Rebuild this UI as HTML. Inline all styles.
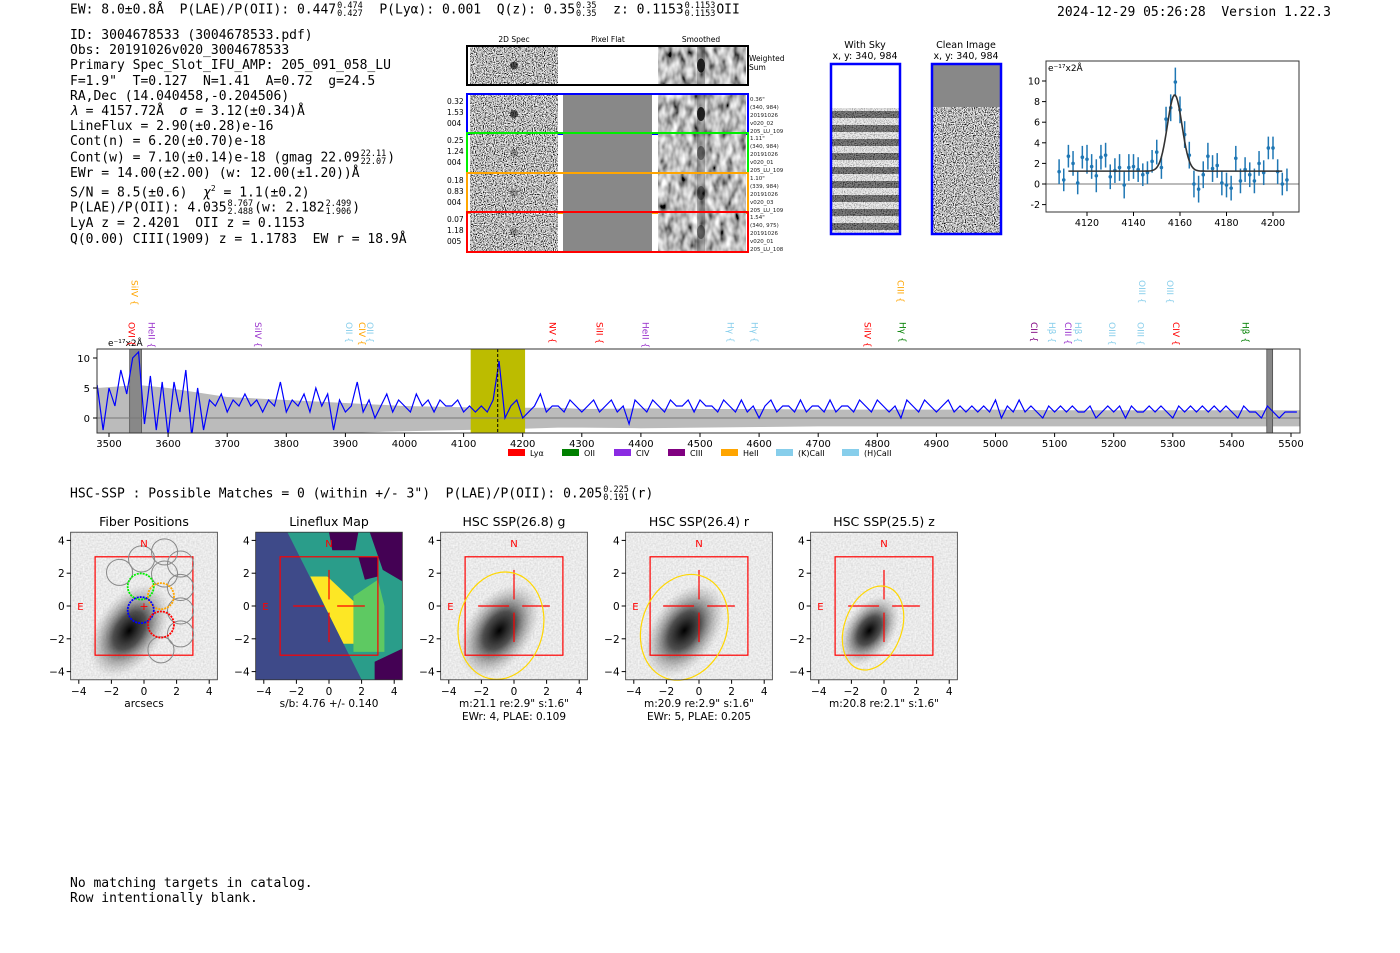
<!DOCTYPE html>
<html><head><meta charset="utf-8">
<style>
body{margin:0;background:#fff;width:1400px;height:953px;overflow:hidden;position:relative;font-family:"DejaVu Sans","Liberation Sans",sans-serif}
.mono{font-family:"DejaVu Sans Mono","Liberation Mono",monospace;font-size:13px;position:absolute;white-space:pre;color:#000;line-height:15px}
.fr{display:inline-block;vertical-align:middle;font-size:8.5px;line-height:8px;text-align:left;margin:0 1px}
.fr span{display:block}
svg{position:absolute;left:0;top:0}
</style></head><body>
<div class="mono" style="left:70px;top:2px">EW: 8.0±0.8Å  P(LAE)/P(OII): 0.447<span class="fr"><span>0.474</span><span>0.427</span></span>  P(Lyα): 0.001  Q(z): 0.35<span class="fr"><span>0.35</span><span>0.35</span></span>  z: 0.1153<span class="fr"><span>0.1153</span><span>0.1153</span></span>OII</div>
<div class="mono" style="left:1057px;top:5px">2024-12-29 05:26:28  Version 1.22.3</div>
<div class="mono" style="left:70px;top:28px;line-height:15.2px">ID: 3004678533 (3004678533.pdf)
Obs: 20191026v020_3004678533
Primary Spec_Slot_IFU_AMP: 205_091_058_LU
F=1.9"  T=0.127  N=1.41  A=0.72  g=24.5
RA,Dec (14.040458,-0.204506)
<i>λ</i> = 4157.72Å  <i>σ</i> = 3.12(±0.34)Å
LineFlux = 2.90(±0.28)e-16
Cont(n) = 6.20(±0.70)e-18
Cont(w) = 7.10(±0.14)e-18 (gmag 22.09<span class="fr"><span>22.11</span><span>22.07</span></span>)
EWr = 14.00(±2.00) (w: 12.00(±1.20))Å
S/N = 8.5(±0.6)  <i>χ</i><sup style="font-size:8px">2</sup> = 1.1(±0.2)
P(LAE)/P(OII): 4.035<span class="fr"><span>8.767</span><span>2.488</span></span>(w: 2.182<span class="fr"><span>2.499</span><span>1.906</span></span>)
LyA z = 2.4201  OII z = 0.1153
Q(0.00) CIII(1909) z = 1.1783  EW r = 18.9Å</div>
<div class="mono" style="left:70px;top:486px">HSC-SSP : Possible Matches = 0 (within +/- 3")  P(LAE)/P(OII): 0.205<span class="fr"><span>0.225</span><span>0.191</span></span>(r)</div>
<div class="mono" style="left:70px;top:876px">No matching targets in catalog.
Row intentionally blank.</div>

<svg id="chart" width="1400" height="953" xmlns="http://www.w3.org/2000/svg">
<defs>
<filter id="noise" x="0" y="0" width="1" height="1"><feTurbulence type="fractalNoise" baseFrequency="0.9" numOctaves="1" seed="4"/><feColorMatrix type="matrix" values="3 0 0 0 -1 3 0 0 0 -1 3 0 0 0 -1 0 0 0 0 1"/></filter>
<filter id="smooth" x="0" y="0" width="1" height="1"><feTurbulence type="fractalNoise" baseFrequency="0.15 0.08" numOctaves="2" seed="7"/><feColorMatrix type="matrix" values="1.6 0 0 0 -0.3 1.6 0 0 0 -0.3 1.6 0 0 0 -0.3 0 0 0 0 1"/></filter>
<filter id="light" x="0" y="0" width="1" height="1"><feTurbulence type="fractalNoise" baseFrequency="0.6" numOctaves="1" seed="9"/><feColorMatrix type="matrix" values="0.4 0 0 0 0.62 0.4 0 0 0 0.62 0.4 0 0 0 0.62 0 0 0 0 1"/></filter>
<pattern id="stripes" x="0" y="108" width="67" height="14" patternUnits="userSpaceOnUse"><rect width="67" height="14" fill="#eee"/><rect y="3" width="67" height="7" fill="#444"/></pattern>
<radialGradient id="gal"><stop offset="0" stop-color="#000"/><stop offset="0.4" stop-color="#333" stop-opacity="0.85"/><stop offset="1" stop-color="#999" stop-opacity="0"/></radialGradient>
<clipPath id="specClip"><rect x="97" y="349" width="1203" height="84"/></clipPath>
<clipPath id="zoomClip"><rect x="1046" y="61" width="253" height="151"/></clipPath>
</defs>
</svg>
<script>
// ---- data ----
const specStart = 3480, specStep = 10;
const specFlux = [
5.5,-2,5,2,8,4,10,11,-1,7,
-2,6,-3,6,1,8,-3,5,-2,3,
2,4,1,3,2,4,2,3,1,3,
2,6,1,3,2,4,1,5,2,4,
-2,3,1,2,6,1,3,0,2,4,
1,3,2,1,4,2,3,1,3,2,
2,3,1,2,1,2,1,3,9.5,0,
2,3,0,1,2,4,1,2,2,1,
3,2,1,2,3,1,2,3,1,2,
-1,3,2,1,3,2,1,3,2,2,
3,1,3,2,2,1,3,2,1,3,
1,2,0,2,3,1,2,2,1,3,
1,2,2,1,3,1,2,2,1,3,
2,1,3,2,1,2,0,3,2,1,
3,2,1,2,3,1,2,1,2,1,
2,1,3,0,2,1,3,1,2,1,
0,2,1,2,1,2,1,1,2,0,
1,2,1,2,0,2,1,1,2,1,
2,1,0,2,1,2,1,2,1,2,
1,2,1,0,2,1,1,0,2,1,
0,1,1,1];
const errWave = [3480,3550,3600,3700,3800,3900,4000,4100,4200,4260,4300,4400,4500,4600,4700,4800,4900,5000,5100,5200,5300,5400,5515];
const errUp   = [5,5.5,5,3.5,3,2.5,2,1.8,1.7,1.7,1.5,1.6,1.5,1.5,1.4,1.4,1.4,1.4,1.3,1.3,1.3,1.3,1.3];
const errLo   = [-3,-3,-3,-3,-2.5,-2.5,-2.2,-2,-1.8,-1.6,-1.6,-1.7,-1.6,-1.5,-1.4,-1.4,-1.4,-1.4,-1.4,-1.4,-1.4,-1.4,-1.4];
const specXTicks = [3500,3600,3700,3800,3900,4000,4100,4200,4300,4400,4500,4600,4700,4800,4900,5000,5100,5200,5300,5400,5500];
const specYTicks = [0,5,10];
const lineNames = ["SiIV","OVI","HeII","SiIV","OII","CIV","OII","NV","SiII","HeII","Hγ","Hγ","SiIV","Hγ","CIII","CII","Hβ","CIII","Hβ","OIII","OIII","OIII","OIII","CIV","Hβ"];
const lineWaves = [3543,3538,3572,3752,3906,3928,3942,4250,4330,4408,4552,4592,4783,4843,4839,5065,5096,5123,5140,5197,5245,5248,5295,5305,5423];
const lineRows  = [1,0,0,0,0,0,0,0,0,0,0,0,0,0,1,0,0,0,0,0,0,1,1,0,0];
const lineColors = ["#ffa500","#ff0000","#9932cc","#9932cc","#87ceeb","#ffa500","#87ceeb","#ff0000","#ff0000","#9932cc","#87ceeb","#87ceeb","#ff0000","#008000","#ffa500","#800080","#87ceeb","#9932cc","#87ceeb","#87ceeb","#87ceeb","#87ceeb","#87ceeb","#ff0000","#008000"];
const legendNames = ["Lyα","OII","CIV","CIII","HeII","(K)CaII","(H)CaII"];
const legendColors = ["#ff0000","#008000","#8a2be2","#800080","#ffa500","#87ceeb","#87ceeb"];
const zoomWave = [4108,4110,4112,4114,4116,4118,4120,4122,4124,4126,4128,4130,4132,4134,4136,4138,4140,4142,4144,4146,4148,4150,4152,4154,4156,4158,4160,4162,4164,4166,4168,4170,4172,4174,4176,4178,4180,4182,4184,4186,4188,4190,4192,4194,4196,4198,4200,4202,4204,4206];
const zoomFlux = [1.2,0.4,2.7,2.0,0.1,2.6,2.4,1.7,0.8,2.6,2.8,0.7,1.3,1.6,-0.1,1.6,1.7,1.4,0.9,1.1,2.2,3.1,1.6,6.3,7.4,9.9,7.2,4.8,2.8,0.0,-0.5,0.9,2.7,1.5,1.8,0.1,-0.1,-0.4,2.5,0.3,1.4,0.9,0.3,2.0,1.1,3.5,3.5,1.2,0.0,0.4];
const zoomErr = [1.2,1.1,1.1,1.2,1.1,1.1,1.4,1.2,1.6,1.2,1.2,1.2,1.2,1.3,1.3,1.3,1.2,1.2,1.1,1.1,1.1,1.2,1.1,1.2,1.3,1.4,1.3,1.3,1.3,1.3,1.3,1.3,1.3,1.3,1.2,1.2,1.2,1.2,1.2,1.2,1.2,1.2,1.2,1.2,1.2,1.1,1.1,1.2,1.1,1.1];
const zoomXTicks = [4120,4140,4160,4180,4200];
const zoomYTicks = [-2,0,2,4,6,8,10];
const fitCenter = 4157.72, fitSigma = 3.12, fitAmp = 7.4, fitCont = 1.25;
const cutTitles = ["Fiber Positions","Lineflux Map","HSC SSP(26.8) g","HSC SSP(26.4) r","HSC SSP(25.5) z"];
const cutCaptions = [["arcsecs"],["s/b: 4.76 +/- 0.140"],['m:21.1  re:2.9"  s:1.6"',"EWr: 4, PLAE: 0.109"],['m:20.9  re:2.9"  s:1.6"',"EWr: 5, PLAE: 0.205"],['m:20.8  re:2.1"  s:1.6"']];
const cutTicks = [-4,-2,0,2,4];
const fiberX = [-1.5,-0.15,1.26,2.24,1.26,2.24,2.24,2.24,1.04,-0.2,1.04,-0.2,1.04];
const fiberY = [2.05,2.87,3.3,2.56,1.95,1.13,-0.3,-1.7,-2.67,1.19,0.6,-0.25,-1.13];
const fiberColors = ["#888","#888","#888","#888","#888","#888","#888","#888","#888","#00ee00","#ffa500","#0000ff","#ff0000"];
const ellCx = [-0.8,-0.9,-0.67], ellCy=[-1.2,-1.3,-1.34], ellRx=[2.6,2.6,1.75], ellRy=[3.3,3.3,2.65], ellRot=[12,20,20];

const NS="http://www.w3.org/2000/svg";
const svg=document.getElementById('chart');
function mk(tag,attrs,parent){const e=document.createElementNS(NS,tag);for(const k in attrs)e.setAttribute(k,attrs[k]);(parent||svg).appendChild(e);return e;}
function txt(s,x,y,size,anchor,fill,parent){const e=mk('text',{x:x,y:y,'font-size':size,'text-anchor':anchor||'start',fill:fill||'#000'},parent);e.textContent=s;return e;}

const sx=w=>109+(w-3500)*0.591;
const sy=v=>418-v*6;
let el;
let bp='M'+errWave.map((w,i)=>sx(w)+','+sy(errUp[i])).join('L');
for(let i=errWave.length-1;i>=0;i--)bp+='L'+sx(errWave[i])+','+sy(errLo[i]);
el=mk('path',{d:bp+'Z',fill:'#bbb','clip-path':'url(#specClip)'});


el=mk('rect',{x:sx(4112),y:349,width:sx(4204)-sx(4112),height:84,fill:'#bcbc00'});


el=mk('rect',{x:sx(3535),y:349,width:sx(3555)-sx(3535),height:84,fill:'#888',stroke:'#444','stroke-width':0.7});


el=mk('rect',{x:sx(5459),y:349,width:sx(5469)-sx(5459),height:84,fill:'#888',stroke:'#444','stroke-width':0.7});


el=mk('line',{x1:97,x2:1300,y1:sy(0),y2:sy(0),stroke:'#777','stroke-width':1});


const sp=specFlux.map((v,i)=>sx(specStart+i*specStep)+','+sy(v)).join(' ');
el=mk('polyline',{points:sp,fill:'none',stroke:'#0000ff','stroke-width':1.2,'clip-path':'url(#specClip)'});


el=mk('line',{x1:sx(fitCenter),x2:sx(fitCenter),y1:349,y2:433,stroke:'#000','stroke-width':1,'stroke-dasharray':'3,2'});


el=mk('rect',{x:97,y:349,width:1203,height:84,fill:'none',stroke:'#333','stroke-width':1});


specXTicks.forEach(t=>{
  el=mk('line',{x1:sx(t),x2:sx(t),y1:433,y2:437,stroke:'#000'});
  
  
  el=txt(t,sx(t),447,10,'middle');
  
  
});
specYTicks.forEach(t=>{
  el=mk('line',{x1:93,x2:97,y1:sy(t),y2:sy(t),stroke:'#000'});
  
  
  el=txt(t,90,sy(t)+4,10,'end');
  
  
});
el=txt('e⁻¹⁷x2Å',108,346,9,'start');


lineNames.forEach((n,i)=>{
  const x=sx(lineWaves[i]);const y=lineRows[i]?280:322;
  el=txt(n+' {',0,0,9,'start',lineColors[i]);
  el.setAttribute('transform','translate('+(x-3)+','+y+') rotate(90)');
  
  
});
legendNames.forEach((n,i)=>{
  const lx=[508,562,614,668,721,776,842][i];
  el=mk('rect',{x:lx,y:449,width:17,height:7,fill:legendColors[i]});
  
  
  el=txt(n,lx+22,456,8,'start');
  
  
});

const zx=w=>1087+(w-4120)*2.325;
const zy=v=>184-v*10.3;
el=mk('line',{x1:1046,x2:1299,y1:zy(0),y2:zy(0),stroke:'#777'});


zoomWave.forEach((w,i)=>{
  el=mk('line',{x1:zx(w),x2:zx(w),y1:zy(zoomFlux[i]+zoomErr[i]),y2:zy(zoomFlux[i]-zoomErr[i]),stroke:'#1f77b4','stroke-width':1.5,'clip-path':'url(#zoomClip)'});
  
  
  el=mk('circle',{cx:zx(w),cy:zy(zoomFlux[i]),r:1.8,fill:'#1f77b4'});
  
  
});
let fp=[];for(let w=4112;w<=4204;w+=0.5){fp.push(zx(w)+','+zy(fitCont+fitAmp*Math.exp(-0.5*Math.pow((w-fitCenter)/fitSigma,2))));}
el=mk('polyline',{points:fp.join(' '),fill:'none',stroke:'#333','stroke-width':1.6});


el=mk('rect',{x:1046,y:61,width:253,height:151,fill:'none',stroke:'#333'});


zoomXTicks.forEach(t=>{
  el=mk('line',{x1:zx(t),x2:zx(t),y1:212,y2:216,stroke:'#000'});
  
  
  el=txt(t,zx(t),226,9.5,'middle');
  
  
});
zoomYTicks.forEach(t=>{
  el=mk('line',{x1:1042,x2:1046,y1:zy(t),y2:zy(t),stroke:'#000'});
  
  
  el=txt(t,1040,zy(t)+3.5,9.5,'end');
  
  
});
el=txt('e⁻¹⁷x2Å',1048,71,9,'start');



[['2D Spec',514],['Pixel Flat',608],['Smoothed',701]].forEach(c=>{
  el=txt(c[0],c[1],42,7.5,'middle');
  
  
});
const rowY=[47,95,134,174,213], rowH=[37,38,38,38,38], rowC=['#000','#0000ff','#00ee00','#ffa500','#ff0000'];
const rowLab=[[],['0.32','1.53','004'],['0.25','1.24','004'],['0.18','0.83','004'],['0.07','1.18','005']];
const rowInfo=[[],['0.36"','(340, 984)','20191026','v020_02','205_LU_109'],['1.11"','(340, 984)','20191026','v020_01','205_LU_109'],['1.10"','(339, 984)','20191026','v020_03','205_LU_109'],['1.54"','(340, 975)','20191026','v020_01','205_LU_108']];
rowY.forEach((y,i)=>{
  const h=rowH[i];
  el=mk('rect',{x:470,y:y,width:88,height:h,filter:'url(#noise)'});
  
  
  el=mk('ellipse',{cx:514,cy:y+h*0.5,rx:4,ry:4,fill:'#111',opacity:i<2?0.7:0.3});
  
  
  el=mk('rect',{x:563,y:y,width:89,height:h,fill:i==0?'#fff':'#888'});
  
  
  el=mk('rect',{x:658,y:y,width:88,height:h,filter:'url(#smooth)'});
  
  
  el=mk('rect',{x:697,y:y,width:8,height:h,fill:'#333',opacity:0.35});
  
  
  el=mk('ellipse',{cx:701,cy:y+h*0.5,rx:4,ry:7,fill:'#000',opacity:i<2?0.8:0.4});
  
  
  el=mk('rect',{x:467,y:y-1,width:281,height:h+2,fill:'none',stroke:rowC[i],'stroke-width':2});
  
  
  rowLab[i].forEach((s,j)=>{el=txt(s,447,y+9+j*11,7.5,'start');
    
    });
  rowInfo[i].forEach((s,j)=>{el=txt(s,750,y+6+j*8,5.5,'start','#222');
    
    });
});
el=txt('Weighted',749,61,7.5,'start');


el=txt('Sum',749,70,7.5,'start');


[['With Sky',865],['Clean Image',966]].forEach(c=>{
  el=txt(c[0],c[1],48,9.5,'middle');
  
  
  el=txt('x, y: 340, 984',c[1],59,9.5,'middle');
  
  
});
el=mk('rect',{x:832,y:65,width:67,height:168,fill:'#fff'});


el=mk('rect',{x:832,y:108,width:67,height:125,fill:'url(#stripes)'});


el=mk('rect',{x:832,y:108,width:67,height:125,filter:'url(#noise)',opacity:0.35});


el=mk('rect',{x:933,y:65,width:67,height:42,fill:'#888'});


el=mk('rect',{x:933,y:107,width:67,height:126,filter:'url(#noise)'});


[831,932].forEach(x=>{el=mk('rect',{x:x,y:64,width:69,height:170,fill:'none',stroke:'#0000ff','stroke-width':2.5});
  
  });

const px0=[144,329,514,699,884], py0=606, kx=16.3, ky=16.4;
px0.forEach((ox,p)=>{
  const ax=a=>ox+a*kx, ay=a=>py0-a*ky;
  const g=mk('g',{});
  
  
  if(p===1){
    el=mk('rect',{x:ax(-4.5),y:ay(4.5),width:9*kx,height:9*ky,fill:'#2a9d8a'},g);
    
    
    const polys=[
      [[[0,4.5],[1.8,4.5],[1.6,3.4],[0.2,3.4]],'#440154'],
      [[[2.5,4.5],[4.5,4.5],[4.5,1.5],[3.3,2.2]],'#440154'],
      [[[1.8,3.0],[3.0,3.0],[3.0,1.8],[2.2,1.6]],'#440154'],
      [[[2.8,-3.4],[4.5,-2.6],[4.5,-4.5],[2.8,-4.5]],'#440154'],
      [[[1.5,0.6],[3.0,1.6],[3.4,0],[3.4,-2.8],[1.5,-2.8]],'#5ec962'],
      [[[-1.15,1.8],[-0.1,1.8],[1.5,0.3],[1.5,-2.3],[0.88,-2.3]],'#fde725'],
      [[[-4.5,4.5],[-2.55,4.5],[2.0,-4.5],[-4.5,-4.5]],'#3e4a89']];
    polys.forEach(pp=>{el=mk('polygon',{points:pp[0].map(q=>ax(q[0])+','+ay(q[1])).join(' '),fill:pp[1]},g);
      
      });
  } else {
    el=mk('rect',{x:ax(-4.5),y:ay(4.5),width:9*kx,height:9*ky,filter:'url(#light)'},g);
    
    
    const sc=p===4?0.75:1;
    el=mk('ellipse',{cx:ax(-0.9),cy:ay(-1.5),rx:2.0*kx*sc,ry:3.2*ky*sc,fill:'url(#gal)',transform:'rotate(35 '+ax(-0.9)+' '+ay(-1.5)+')'},g);
    
    
  }
  el=mk('rect',{x:ax(-3),y:ay(3),width:6*kx,height:6*ky,fill:'none',stroke:'#ff0000','stroke-width':1.2},g);
  
  
  if(p===0){
    fiberX.forEach((fx,i)=>{el=mk('circle',{cx:ax(fx),cy:ay(fiberY[i]),r:0.8*kx,fill:'none',stroke:fiberColors[i],'stroke-width':fiberColors[i]==='#888'?1:1.8,'stroke-dasharray':fiberColors[i]==='#888'?'':'2,1'},g);
      
      });
    el=txt('+',ax(0),ay(0)+4,11,'middle','#ff0000',g);
    
    
  } else {
    [[-2.2,0,-0.3,0],[0.5,0,2.2,0],[0,2.2,0,0.4],[0,-0.4,0,-2.2]].forEach(s=>{
      el=mk('line',{x1:ax(s[0]),y1:ay(s[1]),x2:ax(s[2]),y2:ay(s[3]),stroke:'#ff0000','stroke-width':1.2},g);
      
      });
  }
  if(p>=2){const k=p-2;
    el=mk('ellipse',{cx:ax(ellCx[k]),cy:ay(ellCy[k]),rx:ellRx[k]*kx,ry:ellRy[k]*ky,fill:'none',stroke:'#ffd700','stroke-width':1.2,transform:'rotate('+ellRot[k]+' '+ax(ellCx[k])+' '+ay(ellCy[k])+')'},g);
    
    }
  el=txt('N',ax(0),ay(3.6),10,'middle','#ff0000',g);
  
  
  el=txt('E',ax(-3.9),ay(0)+4,10,'middle','#ff0000',g);
  
  
  el=mk('rect',{x:ax(-4.5),y:ay(4.5),width:9*kx,height:9*ky,fill:'none',stroke:'#333','stroke-width':0.8},g);
  
  
  cutTicks.forEach(t=>{
    el=mk('line',{x1:ax(t),x2:ax(t),y1:ay(-4.5),y2:ay(-4.5)+4,stroke:'#000'},g);
    
    
    el=txt(t<0?'−'+(-t):t,ax(t),ay(-4.5)+15,10.5,'middle','#000',g);
    
    
    el=mk('line',{x1:ax(-4.5)-4,x2:ax(-4.5),y1:ay(t),y2:ay(t),stroke:'#000'},g);
    
    
    el=txt(t<0?'−'+(-t):t,ax(-4.5)-6,ay(t)+4,10.5,'end','#000',g);
    
    
  });
  el=txt(cutTitles[p],ox,526,12.5,'middle','#000',g);
  
  
  cutCaptions[p].forEach((c,j)=>{el=txt(c,ox,707+j*13,10.5,'middle','#000',g);
    
    });
});
</script>
</body></html>
